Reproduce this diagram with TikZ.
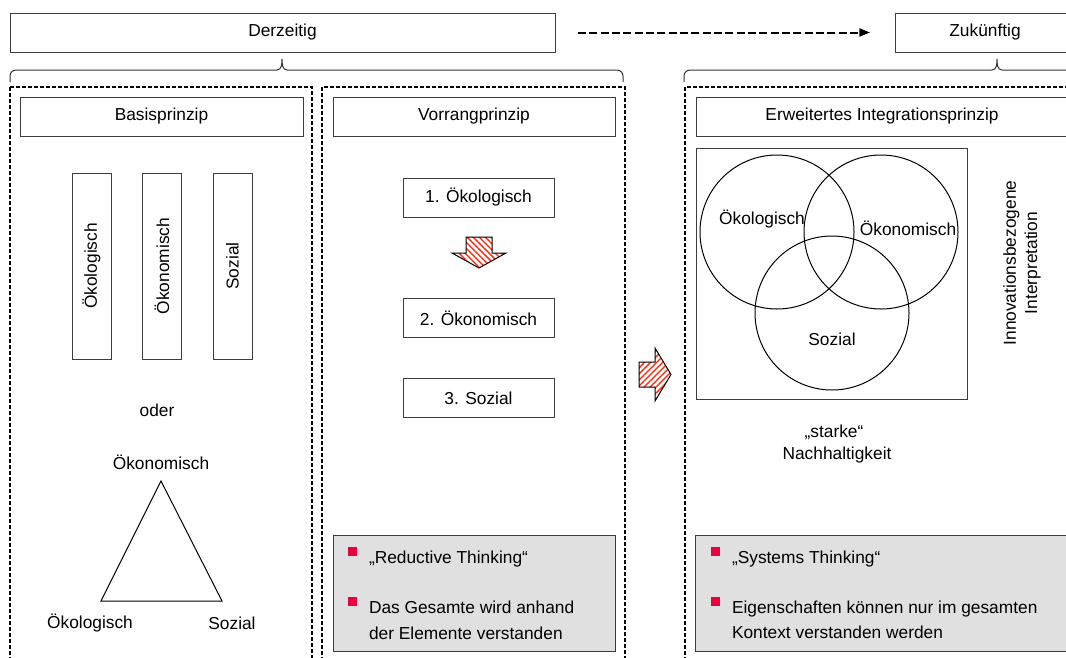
\documentclass[tikz,border=0pt]{standalone}
\usepackage{fontspec}
\setmainfont{Liberation Sans}
\usetikzlibrary{patterns.meta,arrows.meta}
\definecolor{boxline}{RGB}{60,60,60}
\definecolor{greyfill}{RGB}{224,224,224}
\definecolor{bulletred}{RGB}{232,0,64}
\definecolor{hatchred}{RGB}{255,50,20}
\begin{document}
\begin{tikzpicture}[x=0.75pt,y=-0.75pt,
  every node/.style={font=\fontsize{13}{16}\selectfont, inner sep=0pt, outer sep=0pt},
  box/.style={draw=boxline, line width=0.75pt, fill=white},
  greybox/.style={draw=boxline, line width=0.75pt, fill=greyfill},
  frame/.style={draw=black, line width=0.9pt, dash pattern=on 3pt off 1.5pt},
  brace/.style={draw=black!80, line width=0.75pt},
  thinline/.style={draw=black, line width=0.75pt},
  venncircle/.style={circle, draw=black, line width=0.75pt, minimum size=115.5pt},
  blockarrow/.style={draw=black, line width=0.75pt, fill=white},
  bullet/.style={fill=bulletred},
  txt/.style={anchor=base west}]
\useasboundingbox (0,0) rectangle (1066,657);
\clip (0,0) rectangle (1066,657);

% top boxes
\node[box, minimum width=408.75pt, minimum height=29.25pt] (derz) at (282.5,32.5) {Derzeitig};
\node[box, minimum width=135pt, minimum height=29.25pt] (zuk) at (985,32.5) {Zukünftig};
\draw[line width=1.5pt, dash pattern=on 6pt off 2.5pt, -{Triangle[length=8pt,width=6pt]},
      shorten <=17.25pt, shorten >=18.75pt] (derz.east) -- (zuk.west);

% braces
\draw[brace] (10,82) -- (10,76) to[out=90,in=180] (16,70) -- (277,70)
  to[out=0,in=-90] (282,59) to[out=-90,in=180] (287,70) -- (617,70)
  to[out=0,in=90] (623,76) -- (623,82);
\draw[brace] (684,82) -- (684,76) to[out=90,in=180] (690,70) -- (992,70)
  to[out=0,in=-90] (997,59) to[out=-90,in=180] (1002,70) -- (1080,70);

% dashed frames
\draw[frame] (10,87) rectangle (312,690);
\draw[frame] (322,87) rectangle (625,690);
\draw[frame] (685,87) rectangle (1090,690);

% column 1
\node[box, minimum width=212.25pt, minimum height=29.25pt] (basis) at (161.5,116.5) {Basisprinzip};
\node[box, rotate=90, minimum width=139.5pt, minimum height=29.25pt] (bar1) at (91.5,266) {Ökologisch};
\node[box, rotate=90, minimum width=139.5pt, minimum height=29.25pt] (bar2) at (162,266) {Ökonomisch};
\node[box, rotate=90, minimum width=139.5pt, minimum height=29.25pt] (bar3) at (232.5,266) {Sozial};
\node (oder) at (157,410) {oder};
\node (toek) at (161,462) {Ökonomisch};
\node (tokol) at (90,623) {Ökologisch};
\node (tsoz) at (232,623) {Sozial};
\coordinate (ta) at (161,481);
\coordinate (tb) at (101,601);
\coordinate (tc) at (222,601);
\draw[thinline] (ta) -- (tb) -- (tc) -- cycle;

% column 2
\node[box, minimum width=211.5pt, minimum height=29.25pt] (vorrang) at (474,116.5) {Vorrangprinzip};
\node[box, minimum width=113.25pt, minimum height=29.25pt] (p1) at (478.5,197.5) {1. Ökologisch};
\node[box, minimum width=113.25pt, minimum height=29.25pt] (p2) at (478.5,318) {2. Ökonomisch};
\node[box, minimum width=113.25pt, minimum height=29.25pt] (p3) at (478.5,398) {3. Sozial};
\path[pattern={Lines[angle=-45,distance=3.2pt,line width=1.1pt]}, pattern color=hatchred]
  (466,237) -- (492,237) -- (492,253) -- (506,253) -- (479,268) -- (452,253) -- (466,253) -- cycle;
\draw[blockarrow, fill=none]
  (466,237) -- (492,237) -- (492,253) -- (506,253) -- (479,268) -- (452,253) -- (466,253) -- cycle;
\node[greybox, minimum width=211.5pt, minimum height=87pt] (g1) at (474,593) {};
\fill[bullet] (348,547) rectangle (357,556);
\fill[bullet] (348,597) rectangle (357,606);
\node[txt] (r1) at (369,563) {„Reductive Thinking“};
\node[txt] (r2) at (369,613) {Das Gesamte wird anhand};
\node[txt] (r3) at (369,639) {der Elemente verstanden};

% transition arrow
\path[pattern={Lines[angle=45,distance=3.2pt,line width=1.1pt]}, pattern color=hatchred]
  (639,362) -- (655,362) -- (655,348) -- (671,374.5) -- (655,401) -- (655,387) -- (639,387) -- cycle;
\draw[blockarrow, fill=none]
  (639,362) -- (655,362) -- (655,348) -- (671,374.5) -- (655,401) -- (655,387) -- (639,387) -- cycle;

% column 3
\node[box, minimum width=279pt, minimum height=29.25pt] (erw) at (882,116.5) {Erweitertes Integrationsprinzip};
\node[box, minimum width=203.25pt, minimum height=188.25pt] (venn) at (831.5,273.5) {};
\node[venncircle] (c1) at (777,232) {};
\node[venncircle] (c2) at (881,232) {};
\node[venncircle] (c3) at (832,313) {};
\node (vokol) at (762,219) {Ökologisch};
\node (vokon) at (908,228) {Ökonomisch};
\node (vsoz) at (832,339) {Sozial};
\node[rotate=90, align=center, font=\fontsize{13}{16}\selectfont] (innov) at (1022,263) {Innovationsbezogene\\Interpretation};
\node (stark1) at (834,432) {„starke“};
\node (stark2) at (837,455) {Nachhaltigkeit};
\node[greybox, minimum width=285pt, minimum height=87pt] (g2) at (885,593) {};
\fill[bullet] (711,547) rectangle (720,556);
\fill[bullet] (711,597) rectangle (720,606);
\node[txt] (s1) at (732,563) {„Systems Thinking“};
\node[txt] (s2) at (732,613) {Eigenschaften können nur im gesamten};
\node[txt] (s3) at (732,638) {Kontext verstanden werden};
\end{tikzpicture}
\end{document}
